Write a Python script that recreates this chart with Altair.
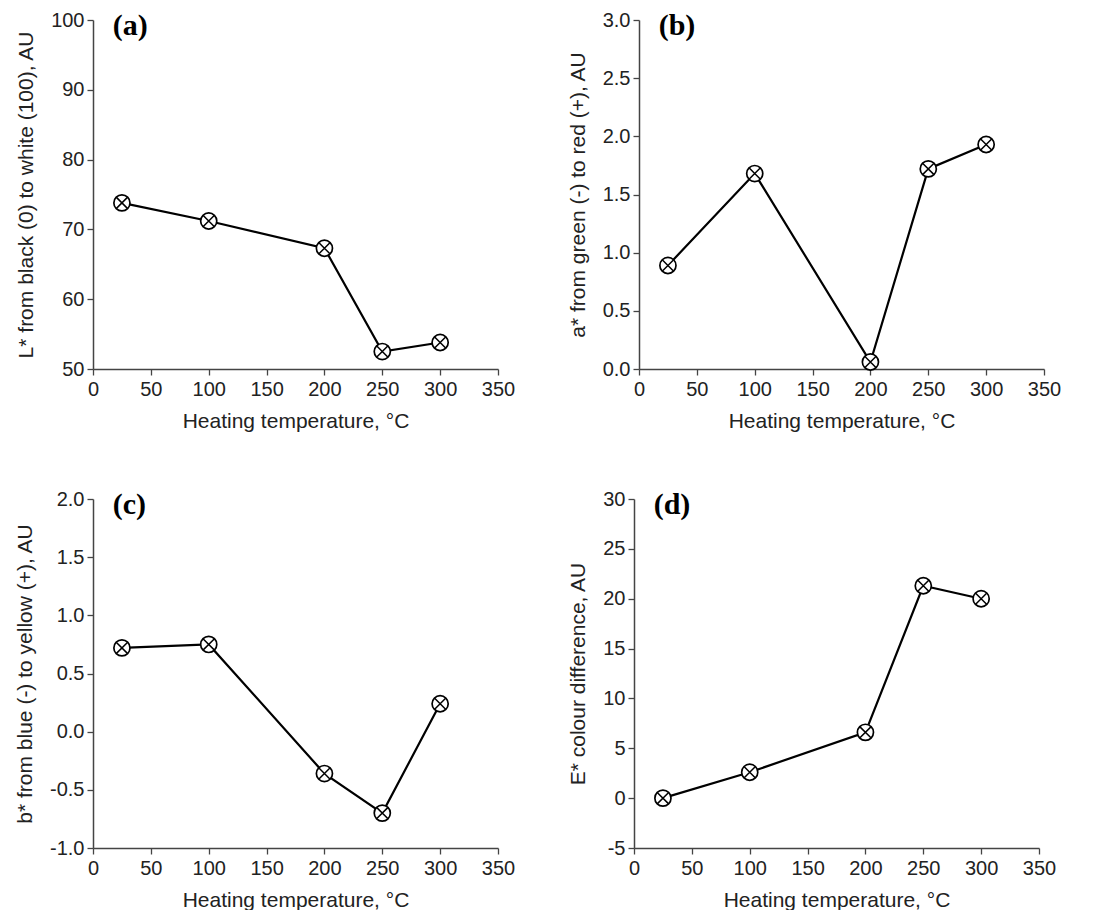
import altair as alt
import pandas as pd

temps = [25, 100, 200, 250, 300]
L_star = [73.8, 71.2, 67.3, 52.5, 53.8]
a_star = [0.89, 1.68, 0.06, 1.72, 1.93]
b_star = [0.72, 0.75, -0.36, -0.70, 0.24]
E_star = [0.0, 2.6, 6.6, 21.3, 20.0]

x_title = "Heating temperature, °C"
panel_labels = ["(a)", "(b)", "(c)", "(d)"]
y_titles = [
    "L* from black (0) to white (100), AU",
    "a* from green (-) to red (+), AU",
    "b* from blue (-) to yellow (+), AU",
    "E* colour difference, AU",
]
# (min, max, minor step, major step, format)
y_axes = [
    (50, 100, 5, 10, "d"),
    (0.0, 3.0, 0.25, 0.5, ".1f"),
    (-1.0, 2.0, 0.25, 0.5, ".1f"),
    (-5, 30, 2.5, 5, "d"),
]

W, H = 405, 349
FONT = "Liberation Sans"
AXIS_COLOR = "#444444"
TEXT_COLOR = "#222222"


def ticks(lo, hi, step):
    n = int(round((hi - lo) / step))
    return [round(lo + i * step, 6) for i in range(n + 1)]


def major_test(step):
    return f"abs(datum.value/{step} - round(datum.value/{step})) < 1e-6"


def panel(values, ytitle, yax, label):
    lo, hi, minor, major, fmt = yax
    df = pd.DataFrame({"T": temps, "v": values})
    xaxis = alt.Axis(
        title=x_title,
        values=ticks(0, 350, 25),
        format="d",
        labelExpr=f"{major_test(50)} ? datum.label : ''",
        tickSize={"condition": {"test": f"!({major_test(50)})", "value": 3}, "value": 6},
        labelOverlap=False,
        labelFlush=False,
        labelPadding=4,
        titlePadding=11,
    )
    yaxis = alt.Axis(
        title=ytitle,
        values=ticks(lo, hi, minor),
        format=fmt,
        labelExpr=f"{major_test(major)} ? replace(datum.label, '\u2212', '-') : ''",
        tickSize={"condition": {"test": f"!({major_test(major)})", "value": 3}, "value": 6},
        labelOverlap=False,
        labelFlush=False,
        labelPadding=3,
        titlePadding=14,
    )
    x = alt.X("T:Q", scale=alt.Scale(domain=[0, 350], nice=False), axis=xaxis)
    y = alt.Y("v:Q", scale=alt.Scale(domain=[lo, hi], nice=False), axis=yaxis)
    base = alt.Chart(df).encode(x=x, y=y)
    line = base.mark_line(color="black", strokeWidth=2.2)
    circ = base.mark_point(
        shape="circle", size=260, fill="white", fillOpacity=1,
        stroke="black", strokeWidth=1.7, opacity=1,
    )
    cross = base.mark_point(
        shape="M-0.68,-0.68L0.68,0.68M-0.68,0.68L0.68,-0.68",
        size=260, stroke="black", strokeWidth=1.5, opacity=1,
    )
    lab_df = pd.DataFrame({"T": [17], "v": [hi], "t": [label]})
    text = alt.Chart(lab_df).mark_text(
        font="Liberation Serif", fontWeight="bold", fontSize=30,
        align="left", baseline="middle", dy=6, color="black",
    ).encode(
        x=alt.X("T:Q", scale=alt.Scale(domain=[0, 350], nice=False)),
        y=alt.Y("v:Q", scale=alt.Scale(domain=[lo, hi], nice=False)),
        text="t:N",
    )
    return alt.layer(line, circ, cross, text).properties(width=W, height=H)


panels = [
    panel(L_star, y_titles[0], y_axes[0], panel_labels[0]),
    panel(a_star, y_titles[1], y_axes[1], panel_labels[1]),
    panel(b_star, y_titles[2], y_axes[2], panel_labels[2]),
    panel(E_star, y_titles[3], y_axes[3], panel_labels[3]),
]

chart = alt.vconcat(
    alt.hconcat(panels[0], panels[1], spacing=52),
    alt.hconcat(panels[2], panels[3], spacing=52),
    spacing=58,
).properties(
    padding={"left": 6, "top": 2, "right": 2, "bottom": 0}
).configure_view(stroke=None).configure_axis(
    grid=False,
    domainColor=AXIS_COLOR,
    domainWidth=1.5,
    tickColor=AXIS_COLOR,
    tickWidth=1.3,
    labelFont=FONT,
    labelFontSize=20,
    labelColor=TEXT_COLOR,
    titleFont=FONT,
    titleFontSize=21,
    titleFontWeight="normal",
    titleColor=TEXT_COLOR,
)

chart.save("out.html", embed_options={"renderer": "svg", "actions": False})
